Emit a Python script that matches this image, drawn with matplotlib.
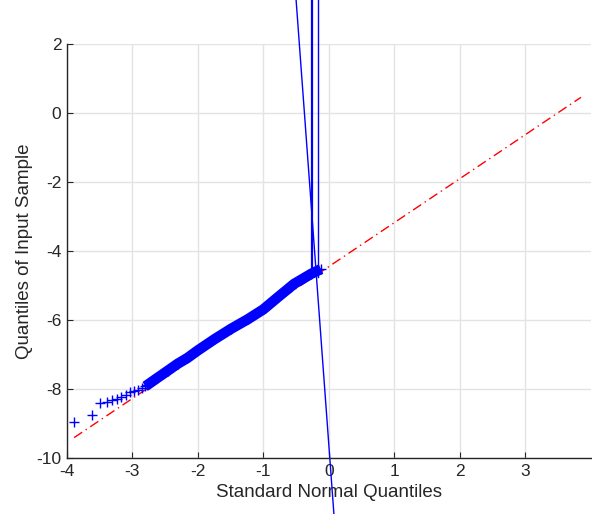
import matplotlib
matplotlib.use("Agg")
import matplotlib.pyplot as plt

plt.rcParams['font.family'] = ['Liberation Sans', 'DejaVu Sans']
plt.rcParams['axes.unicode_minus'] = False

# sparse lower tail of the sample
tail_x = [-3.89, -3.62, -3.50, -3.39, -3.31, -3.24, -3.18, -3.10, -3.03,
          -2.97, -2.92, -2.85]
tail_y = [-8.97, -8.74, -8.42, -8.37, -8.33, -8.30, -8.24, -8.17, -8.10,
          -8.06, -8.03, -7.96]

# dense body of the sample quantiles
body_x = [-2.80, -2.77, -2.62, -2.46, -2.31, -2.16, -2.00, -1.75,
          -1.49, -1.24, -1.00, -0.78, -0.53, -0.27, -0.12]
body_y = [-7.92, -7.88, -7.68, -7.47, -7.27, -7.10, -6.88, -6.56,
          -6.25, -5.98, -5.69, -5.34, -4.95, -4.66, -4.52]

# reference line (red dash-dot)
ref_x = [-3.89, 3.85]
ref_y = [-9.41, 0.46]

# stray blue segments
seg1_x = [-0.255, -0.255]
seg1_y = [3.40, -4.62]
seg2_x = [-0.17, -0.17]
seg2_y = [3.40, -4.75]
seg3_x = [-0.50, 0.077]
seg3_y = [3.28, -11.62]

fig = plt.figure(figsize=(5.92, 5.14), dpi=100)
ax = fig.add_axes([0.113, 0.109, 0.885, 0.805])

ax.plot(ref_x, ref_y, color='red', linestyle=(0, (7, 3, 1, 3)), linewidth=1)
ax.plot(body_x, body_y, color='blue', linewidth=7.5, solid_capstyle='butt')
ax.plot(body_x, body_y, '+', color='blue', markersize=7)
ax.plot(tail_x, tail_y, '+', color='blue', markersize=7, markeredgewidth=1)

ax.plot(seg1_x, seg1_y, color='blue', linewidth=1.6, clip_on=False)
ax.plot(seg2_x, seg2_y, color='blue', linewidth=1.0, clip_on=False)
ax.plot(seg3_x, seg3_y, color='blue', linewidth=1.0, clip_on=False)

ax.set_xlim(-4, 4)
ax.set_ylim(-10, 2)
ax.set_xticks(range(-4, 4))
ax.set_yticks(range(-10, 3, 2))
ax.grid(True, color='#e3e3e3', linewidth=1)
ax.set_axisbelow(True)

for side in ['top', 'right']:
    ax.spines[side].set_visible(False)
for side in ['left', 'bottom']:
    ax.spines[side].set_color('#262626')
    ax.spines[side].set_linewidth(1)

ax.tick_params(direction='in', length=4, labelsize=12.5, colors='#262626', pad=4)
ax.set_xlabel('Standard Normal Quantiles', fontsize=13.5, color='#262626', labelpad=4)
ax.set_ylabel('Quantiles of Input Sample', fontsize=13.5, color='#262626', labelpad=2)

fig.savefig('out.png', dpi=100)
